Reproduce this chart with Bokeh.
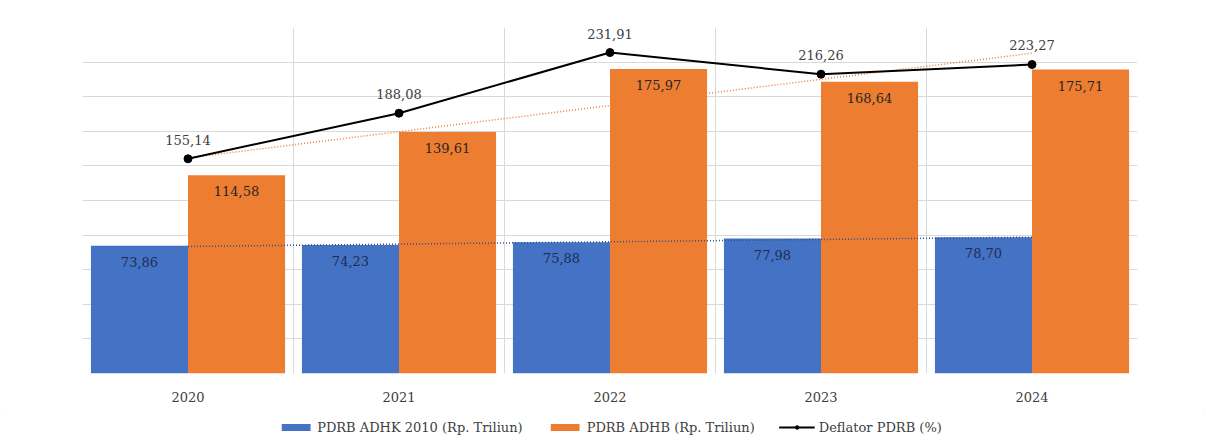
import numpy as np
from bokeh.plotting import figure
from bokeh.layouts import column
from bokeh.models import Range1d, ColumnDataSource, Legend, LegendItem, FixedTicker
from bokeh.core.properties import value
from bokeh.embed import file_html
from bokeh.resources import INLINE

years = ["2020", "2021", "2022", "2023", "2024"]
adhk = [73.86, 74.23, 75.88, 77.98, 78.70]
adhb = [114.58, 139.61, 175.97, 168.64, 175.71]
deflator = [155.14, 188.08, 231.91, 216.26, 223.27]
series_names = ["PDRB ADHK 2010 (Rp. Triliun)", "PDRB ADHB (Rp. Triliun)", "Deflator PDRB (%)"]


def fmt(v):
    return f"{v:.2f}".replace(".", ",")


idx = np.arange(len(years))
trend_adhk = np.polyval(np.polyfit(idx, adhk, 1), idx)
trend_adhb = np.polyval(np.polyfit(idx, adhb, 1), idx)

BAR_W = 0.46
src = ColumnDataSource(dict(
    x=list(idx.astype(float)),
    x_adhk=list(idx - BAR_W / 2), x_adhb=list(idx + BAR_W / 2),
    adhk=adhk, adhb=adhb, deflator=deflator,
    adhk_lbl=[fmt(v) for v in adhk], adhb_lbl=[fmt(v) for v in adhb],
    defl_lbl=[fmt(v) for v in deflator],
    t_adhk=list(trend_adhk), t_adhb=list(trend_adhb),
))

BLUE = "#4472C4"
ORANGE = "#ED7D31"
GRID = "#d9d9d9"
FONT = "DejaVu Serif"
W = 1205

p = figure(width=W, height=410, x_range=Range1d(-0.5, len(years) - 0.5),
           y_range=Range1d(0, 200), output_backend="svg", toolbar_location=None,
           min_border_left=82, min_border_right=68, min_border_top=27, min_border_bottom=37)
p.extra_y_ranges = {"defl": Range1d(0, 250)}
p.outline_line_color = None
p.background_fill_color = "white"
p.border_fill_color = "white"

p.xgrid.ticker = FixedTicker(ticks=[i - 0.5 for i in range(len(years) + 1)])
p.xgrid.grid_line_color = GRID
p.ygrid.ticker = FixedTicker(ticks=list(range(0, 201, 20)))
p.ygrid.grid_line_color = GRID

p.yaxis.visible = False
p.xaxis.ticker = FixedTicker(ticks=list(idx))
p.xaxis.major_label_overrides = {int(i): y for i, y in zip(idx, years)}
p.xaxis.axis_line_color = None
p.xaxis.major_tick_line_color = None
p.xaxis.minor_tick_line_color = None
p.xaxis.major_label_text_font = FONT
p.xaxis.major_label_text_font_size = "13px"
p.xaxis.major_label_text_color = "#404040"
p.xaxis.major_label_standoff = 12

p.vbar(x="x_adhk", top="adhk", width=BAR_W, source=src, fill_color=BLUE, line_color=None)
p.vbar(x="x_adhb", top="adhb", width=BAR_W, source=src, fill_color=ORANGE, line_color=None)

p.line(x="x", y="t_adhk", source=src, line_color="#2f4f8f", line_width=1.5, line_dash="1 2")
p.line(x="x", y="t_adhb", source=src, line_color=ORANGE, line_width=1.5, line_dash="1 2")

p.line(x="x", y="deflator", source=src, y_range_name="defl", line_color="black", line_width=2)
p.scatter(x="x", y="deflator", source=src, y_range_name="defl",
          size=8, fill_color="black", line_color="black")

p.text(x="x_adhk", y="adhk", text="adhk_lbl", source=src,
       text_font=value(FONT), text_font_size="13px", text_color="#1f2d50",
       text_align="center", text_baseline="top", y_offset=11)
p.text(x="x_adhb", y="adhb", text="adhb_lbl", source=src,
       text_font=value(FONT), text_font_size="13px", text_color="#262626",
       text_align="center", text_baseline="top", y_offset=11)
p.text(x="x", y="deflator", text="defl_lbl", source=src, y_range_name="defl",
       text_font=value(FONT), text_font_size="13px", text_color="#404040",
       text_align="center", text_baseline="bottom", y_offset=-14)

# legend strip below the chart
lg = figure(width=W, height=34, x_range=Range1d(0, 1), y_range=Range1d(0, 1),
            output_backend="svg", toolbar_location=None,
            min_border_left=0, min_border_right=0, min_border_top=0, min_border_bottom=0)
lg.axis.visible = False
lg.grid.visible = False
lg.outline_line_color = None
dummy = ColumnDataSource(dict(x=[-10.0], y=[-10.0]))
d1 = lg.vbar(x="x", top="y", width=0.1, source=dummy, fill_color=BLUE, line_color=None)
d2 = lg.vbar(x="x", top="y", width=0.1, source=dummy, fill_color=ORANGE, line_color=None)
d3 = lg.line(x="x", y="y", source=dummy, line_color="black", line_width=2)
d4 = lg.scatter(x="x", y="y", source=dummy, size=8, fill_color="black", line_color="black")

legend = Legend(items=[
    LegendItem(label=series_names[0], renderers=[d1]),
    LegendItem(label=series_names[1], renderers=[d2]),
    LegendItem(label=series_names[2], renderers=[d3, d4]),
], orientation="horizontal", location="center",
    label_text_font=FONT, label_text_font_size="13px", label_text_color="#404040",
    glyph_width=36, glyph_height=9, label_standoff=4, spacing=24,
    border_line_color=None, background_fill_alpha=0, margin=0, padding=2, label_height=14)
lg.add_layout(legend, "center")

layout = column(p, lg, spacing=0)
layout.styles = {"outline": "1px solid #d9d9d9", "outline-offset": "-2px"}
open("out.html", "w").write(file_html(layout, INLINE))
